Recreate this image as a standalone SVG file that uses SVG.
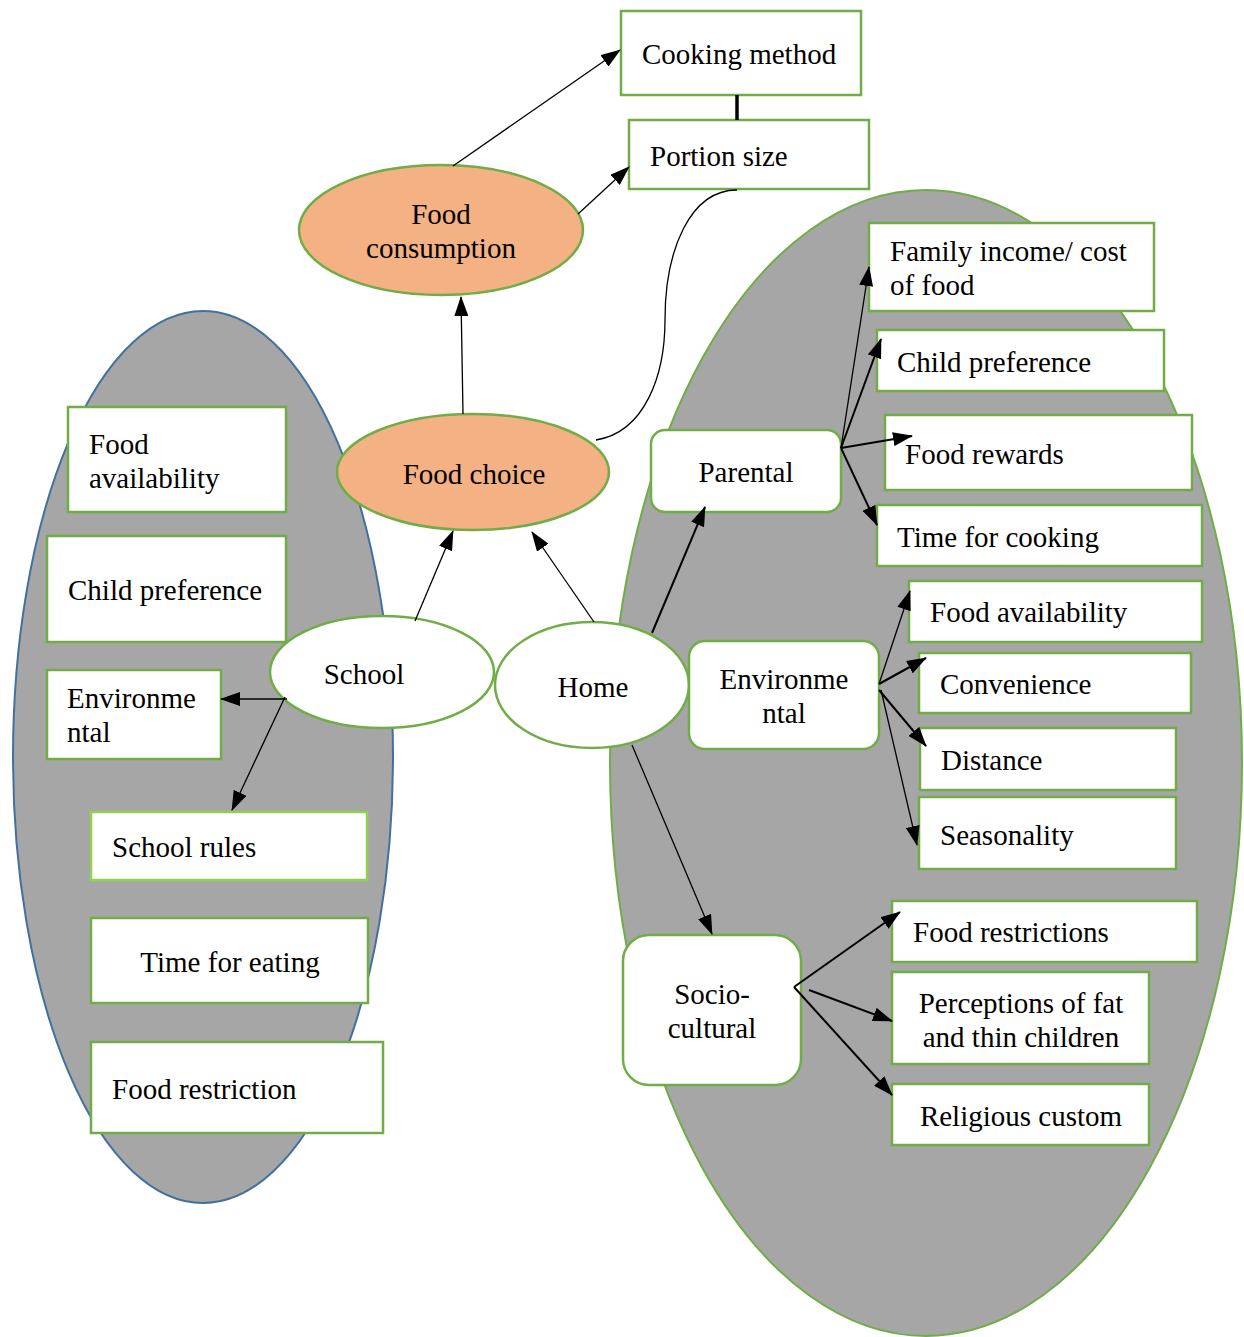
<svg xmlns="http://www.w3.org/2000/svg" width="1244" height="1337" viewBox="0 0 1244 1337">
<style>
text{font-family:"Liberation Serif","Times New Roman",serif;font-size:29px;fill:#000}
.c{text-anchor:middle}
.box{fill:#fff;stroke:#70AD47;stroke-width:2.5}
.oval{fill:#F4B183;stroke:#70AD47;stroke-width:2.5}
.wov{fill:#fff;stroke:#70AD47;stroke-width:2.5}
.ln{stroke:#000;stroke-width:1.3;fill:none}
.lt{stroke:#000;stroke-width:2;fill:none}
</style>
<defs>
<marker id="ah" viewBox="0 0 20 14" refX="19" refY="7" markerWidth="20" markerHeight="14" markerUnits="userSpaceOnUse" orient="auto">
<path d="M0,0 L20,7 L0,14 z" fill="#000"/>
</marker>
</defs>
<rect width="1244" height="1337" fill="#fff"/>
<g id="school-area"><ellipse cx="203" cy="757" rx="190" ry="446" fill="#A6A6A6" stroke="#41719C" stroke-width="2"/></g>
<g id="home-area"><ellipse cx="926" cy="763" rx="316" ry="573" fill="#A6A6A6" stroke="#70AD47" stroke-width="2"/></g>

<g id="cooking-method"><rect class="box" x="621" y="11" width="240" height="84"/><text x="642" y="64">Cooking method</text></g>
<g id="portion-size"><rect class="box" x="629" y="120" width="240" height="69"/><text x="650" y="166">Portion size</text></g>
<g id="food-consumption"><ellipse class="oval" cx="441" cy="230" rx="142" ry="65"/><text class="c" x="441" y="224">Food</text><text class="c" x="441" y="258">consumption</text></g>
<g id="food-choice"><ellipse class="oval" cx="473" cy="472" rx="136" ry="58"/><text class="c" x="474" y="484">Food choice</text></g>
<g id="school"><ellipse class="wov" cx="382" cy="672" rx="112" ry="56"/><text class="c" x="364" y="684">School</text></g>
<g id="home"><ellipse class="wov" cx="592" cy="685" rx="97" ry="63"/><text class="c" x="593" y="697">Home</text></g>

<g id="l-food-availability"><rect class="box" x="68" y="407" width="218" height="105"/><text x="89" y="454">Food</text><text x="89" y="488">availability</text></g>
<g id="l-child-preference"><rect class="box" x="47" y="536" width="239" height="106"/><text x="68" y="600">Child preference</text></g>
<g id="l-environmental"><rect class="box" x="47" y="670" width="174" height="89"/><text x="67" y="708">Environme</text><text x="67" y="742">ntal</text></g>
<g id="school-rules"><rect class="box" x="91" y="812" width="276" height="68" style="stroke:#92D050"/><text x="112" y="857">School rules</text></g>
<g id="time-for-eating"><rect class="box" x="91" y="918" width="277" height="85"/><text class="c" x="230" y="972">Time for eating</text></g>
<g id="food-restriction"><rect class="box" x="91" y="1042" width="292" height="91"/><text x="112" y="1099">Food restriction</text></g>

<g id="parental"><rect class="box" x="651" y="430" width="190" height="82" rx="14"/><text class="c" x="746" y="482">Parental</text></g>
<g id="family-income"><rect class="box" x="869" y="223" width="285" height="88"/><text x="890" y="261">Family income/ cost</text><text x="890" y="295">of food</text></g>
<g id="r-child-preference"><rect class="box" x="877" y="330" width="287" height="61"/><text x="897" y="372">Child preference</text></g>
<g id="food-rewards"><rect class="box" x="885" y="415" width="307" height="75"/><text x="905" y="464">Food rewards</text></g>
<g id="time-for-cooking"><rect class="box" x="877" y="505" width="325" height="61"/><text x="897" y="547">Time for cooking</text></g>

<g id="r-environmental"><rect class="box" x="689" y="641" width="190" height="108" rx="16"/><text class="c" x="784" y="689">Environme</text><text class="c" x="784" y="723">ntal</text></g>
<g id="r-food-availability"><rect class="box" x="909" y="581" width="293" height="61"/><text x="930" y="622">Food availability</text></g>
<g id="convenience"><rect class="box" x="919" y="653" width="272" height="60"/><text x="940" y="694">Convenience</text></g>
<g id="distance"><rect class="box" x="920" y="728" width="256" height="62"/><text x="941" y="770">Distance</text></g>
<g id="seasonality"><rect class="box" x="919" y="797" width="257" height="72"/><text x="940" y="845">Seasonality</text></g>

<g id="socio-cultural"><rect class="box" x="623" y="935" width="178" height="150" rx="26"/><text class="c" x="712" y="1004">Socio-</text><text class="c" x="712" y="1038">cultural</text></g>
<g id="food-restrictions"><rect class="box" x="892" y="901" width="305" height="61"/><text x="913" y="942">Food restrictions</text></g>
<g id="perceptions"><rect class="box" x="892" y="972" width="257" height="92"/><text class="c" x="1021" y="1013">Perceptions of fat</text><text class="c" x="1021" y="1047">and thin children</text></g>
<g id="religious-custom"><rect class="box" x="892" y="1084" width="257" height="61"/><text class="c" x="1021" y="1126">Religious custom</text></g>

<g id="connectors">
<line x1="737" y1="95" x2="737" y2="120" stroke="#000" stroke-width="3.5"/>
<line class="ln" x1="453" y1="166" x2="620" y2="50" marker-end="url(#ah)"/>
<line class="ln" x1="578" y1="214" x2="629" y2="167" marker-end="url(#ah)"/>
<line class="ln" x1="463" y1="414" x2="461" y2="297" marker-end="url(#ah)"/>
<path class="ln" d="M596,440 C645,432 665,375 665,320 C665,250 690,190 737,190"/>
<line class="ln" x1="415" y1="621" x2="453" y2="531" marker-end="url(#ah)"/>
<line class="ln" x1="594" y1="622" x2="532" y2="532" marker-end="url(#ah)"/>
<line class="ln" x1="287" y1="699" x2="221" y2="699" marker-end="url(#ah)"/>
<line class="ln" x1="285" y1="697" x2="232" y2="810" marker-end="url(#ah)"/>
<line class="lt" x1="652" y1="633" x2="705" y2="507" marker-end="url(#ah)"/>
<line class="ln" x1="632" y1="745" x2="712" y2="934" marker-end="url(#ah)"/>
<line class="ln" x1="841" y1="448" x2="869" y2="267" marker-end="url(#ah)"/>
<line class="lt" x1="841" y1="448" x2="881" y2="339" marker-end="url(#ah)"/>
<line class="lt" x1="841" y1="448" x2="912" y2="436" marker-end="url(#ah)"/>
<line class="lt" x1="841" y1="448" x2="877" y2="525" marker-end="url(#ah)"/>
<line class="ln" x1="879" y1="684" x2="910" y2="591" marker-end="url(#ah)"/>
<line class="lt" x1="879" y1="684" x2="926" y2="658" marker-end="url(#ah)"/>
<line class="lt" x1="879" y1="690" x2="926" y2="746" marker-end="url(#ah)"/>
<line class="ln" x1="881" y1="690" x2="917" y2="845" marker-end="url(#ah)"/>
<line class="lt" x1="794" y1="987" x2="900" y2="912" marker-end="url(#ah)"/>
<line class="lt" x1="809" y1="990" x2="892" y2="1021" marker-end="url(#ah)"/>
<line class="lt" x1="794" y1="987" x2="892" y2="1095" marker-end="url(#ah)"/>
</g>
</svg>
